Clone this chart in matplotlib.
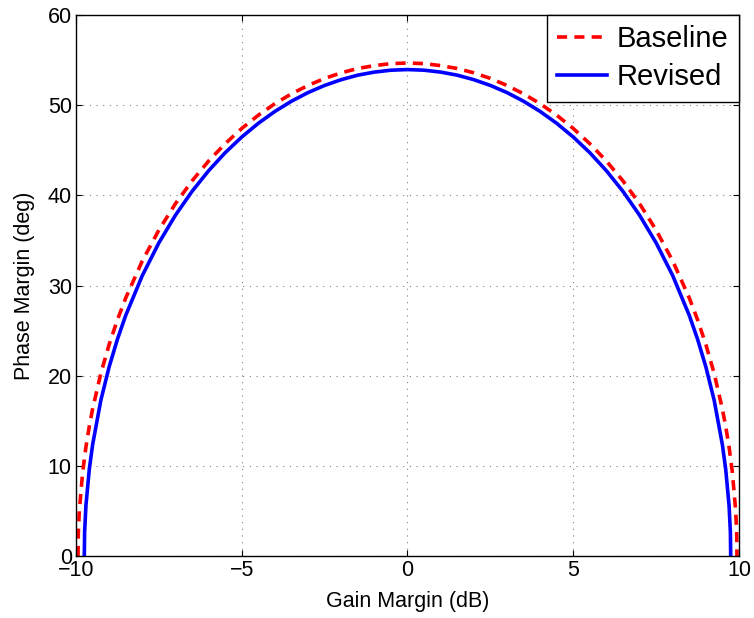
import matplotlib
matplotlib.use("Agg")
import matplotlib.pyplot as plt

plt.rcParams['font.family'] = ['Liberation Sans', 'DejaVu Sans']

# ===============================
# Data
# ===============================
baseline_gm = [-9.94, -9.93, -9.9, -9.8, -9.7, -9.6, -9.5, -9.25, -9.0, -8.75,
               -8.5, -8.0, -7.5, -7.0, -6.5, -6.0, -5.5, -5.0, -4.5, -4.0,
               -3.5, -3.0, -2.5, -2.0, -1.5, -1.0, -0.5, 0.0, 0.5, 1.0,
               1.5, 2.0, 2.5, 3.0, 3.5, 4.0, 4.5, 5.0, 5.5, 6.0,
               6.5, 7.0, 7.5, 8.0, 8.5, 8.75, 9.0, 9.25, 9.5, 9.6,
               9.7, 9.8, 9.9, 9.93, 9.94]
baseline_pm = [0.0, 2.59, 5.01, 9.29, 12.11, 14.36, 16.29, 20.27, 23.46, 26.21,
               28.62, 32.73, 36.15, 39.08, 41.60, 43.81, 45.73, 47.42, 48.89, 50.17,
               51.26, 52.19, 52.97, 53.59, 54.07, 54.39, 54.61, 54.68, 54.61, 54.39,
               54.07, 53.59, 52.97, 52.19, 51.26, 50.17, 48.89, 47.42, 45.73, 43.81,
               41.60, 39.08, 36.15, 32.73, 28.62, 26.21, 23.46, 20.27, 16.29, 14.36,
               12.11, 9.29, 5.01, 2.59, 0.0]

revised_gm = [-9.75, -9.74, -9.7, -9.6, -9.5, -9.25, -9.0, -8.75, -8.5, -8.0,
              -7.5, -7.0, -6.5, -6.0, -5.5, -5.0, -4.5, -4.0, -3.5, -3.0,
              -2.5, -2.0, -1.5, -1.0, -0.5, 0.0, 0.5, 1.0, 1.5, 2.0,
              2.5, 3.0, 3.5, 4.0, 4.5, 5.0, 5.5, 6.0, 6.5, 7.0,
              7.5, 8.0, 8.5, 8.75, 9.0, 9.25, 9.5, 9.6, 9.7, 9.74,
              9.75]
revised_pm = [0.0, 2.69, 5.62, 9.59, 12.32, 17.29, 20.98, 24.05, 26.69, 31.10,
              34.73, 37.80, 40.44, 42.73, 44.73, 46.47, 47.99, 49.31, 50.44, 51.40,
              52.19, 52.83, 53.33, 53.67, 53.88, 53.95, 53.88, 53.67, 53.33, 52.83,
              52.19, 51.40, 50.44, 49.31, 47.99, 46.47, 44.73, 42.73, 40.44, 37.80,
              34.73, 31.10, 26.69, 24.05, 20.98, 17.29, 12.32, 9.59, 5.62, 2.69,
              0.0]

x_ticks = [-10, -5, 0, 5, 10]
x_tick_labels = ['\u221210', '\u22125', '0', '5', '10']
y_ticks = [0, 10, 20, 30, 40, 50, 60]

# ===============================
# Plot
# ===============================
fig = plt.figure(figsize=(7.54, 6.18), dpi=100)
ax = fig.add_axes([0.1008, 0.1003, 0.8793, 0.8754])

ax.plot(baseline_gm, baseline_pm, color='red', linestyle='--', linewidth=2.6,
        dashes=(2.8, 2.0), label='Baseline')
ax.plot(revised_gm, revised_pm, color='blue', linestyle='-', linewidth=2.6,
        label='Revised')

ax.set_xlim(-10, 10)
ax.set_ylim(0, 60)
ax.set_xticks(x_ticks)
ax.set_xticklabels(x_tick_labels)
ax.set_yticks(y_ticks)

ax.grid(True, color='#808080', linestyle=(0, (1, 5)), linewidth=0.8)
ax.tick_params(direction='in', top=True, right=True, labelsize=15.5,
               length=4, width=0.8, pad=3)

for s in ax.spines.values():
    s.set_linewidth(1.0)

ax.set_xlabel('Gain Margin (dB)', fontsize=15.5, labelpad=7)
ax.set_ylabel('Phase Margin (deg)', fontsize=15.5, labelpad=9)

leg = ax.legend(loc='upper right', fontsize=21, frameon=True, fancybox=False,
                edgecolor='black', framealpha=1, borderaxespad=0,
                handlelength=1.7, handletextpad=0.35, borderpad=0.35,
                labelspacing=0.35)
leg.get_frame().set_linewidth(1.0)

fig.savefig('out.png', dpi=100)
